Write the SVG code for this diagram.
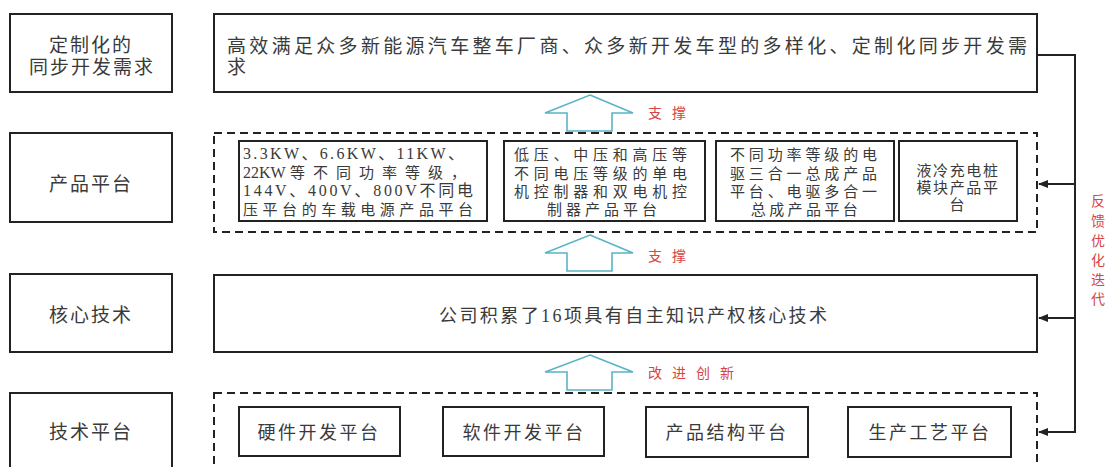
<svg xmlns="http://www.w3.org/2000/svg" width="1110" height="467" viewBox="0 0 1110 467">
<defs>
<style>
.box{fill:#fff;stroke:#222;stroke-width:2}
.dash{fill:none;stroke:#222;stroke-width:2;stroke-dasharray:8 5}
.t{font-family:"Liberation Serif","Noto Sans CJK SC",serif;fill:#3a3a3a}
.c{text-anchor:middle}
.red{font-family:"Liberation Serif","Noto Sans CJK SC",serif;fill:#d64545;font-size:14px}
.up{fill:#fff;stroke:#5ab4c6;stroke-width:1.6;stroke-linejoin:miter}
.fb{fill:none;stroke:#222;stroke-width:2}
</style>
<marker id="ah" markerWidth="10" markerHeight="8" refX="9" refY="4" orient="auto" markerUnits="userSpaceOnUse">
<path d="M0,0 L10,4 L0,8 z" fill="#222"/>
</marker>
</defs>
<rect width="1110" height="467" fill="#fff"/>

<g id="row1-label">
<rect class="box" x="10" y="14" width="162" height="78"/>
<text class="t c" x="91" y="52" font-size="19" letter-spacing="2">定制化的</text>
<text class="t c" x="92" y="74" font-size="19" letter-spacing="2">同步开发需求</text>
</g>
<g id="row1-main">
<rect class="box" x="214" y="14" width="823" height="78"/>
<text class="t" x="227" y="53" font-size="19" textLength="800" lengthAdjust="spacing">高效满足众多新能源汽车整车厂商、众多新开发车型的多样化、定制化同步开发需</text>
<text class="t" x="227" y="74" font-size="19">求</text>
</g>

<g id="row2-label">
<rect class="box" x="10" y="133" width="162" height="89"/>
<text class="t c" x="91" y="191" font-size="19" letter-spacing="2">产品平台</text>
</g>
<g id="row2-main">
<rect class="dash" x="214" y="133" width="823" height="99"/>
<g id="prod-a">
<rect class="box" x="239" y="141" width="248" height="80"/>
<text class="t" x="243" y="159" font-size="16" textLength="221" lengthAdjust="spacing">3.3KW、6.6KW、11KW、</text>
<text class="t" x="243" y="177.5" font-size="16">22KW</text>
<text class="t" x="290" y="177.5" font-size="15" textLength="176" lengthAdjust="spacing">等不同功率等级，</text>
<text class="t" x="243" y="196" font-size="16" textLength="230" lengthAdjust="spacing">144V、400V、800V不同电</text>
<text class="t" x="243" y="214.5" font-size="15" textLength="230" lengthAdjust="spacing">压平台的车载电源产品平台</text>
</g>
<g id="prod-b">
<rect class="box" x="504" y="141" width="201" height="80"/>
<text class="t" x="514" y="160" font-size="15" textLength="173" lengthAdjust="spacing">低压、中压和高压等</text>
<text class="t" x="514" y="178.5" font-size="15" textLength="173" lengthAdjust="spacing">不同电压等级的单电</text>
<text class="t" x="514" y="197" font-size="15" textLength="173" lengthAdjust="spacing">机控制器和双电机控</text>
<text class="t c" x="604" y="215" font-size="15" letter-spacing="4">制器产品平台</text>
</g>
<g id="prod-c">
<rect class="box" x="716" y="141" width="178" height="80"/>
<text class="t" x="730" y="160" font-size="15" textLength="147" lengthAdjust="spacing">不同功率等级的电</text>
<text class="t" x="730" y="178.5" font-size="15" textLength="147" lengthAdjust="spacing">驱三合一总成产品</text>
<text class="t" x="730" y="197" font-size="15" textLength="147" lengthAdjust="spacing">平台、电驱多合一</text>
<text class="t c" x="806" y="215" font-size="15" letter-spacing="3.4">总成产品平台</text>
</g>
<g id="prod-d">
<rect class="box" x="899" y="141" width="118" height="80"/>
<text class="t c" x="958" y="176" font-size="15" letter-spacing="1.6">液冷充电桩</text>
<text class="t c" x="958" y="193" font-size="15" letter-spacing="1.6">模块产品平</text>
<text class="t c" x="957" y="210" font-size="15">台</text>
</g>
</g>

<g id="row3-label">
<rect class="box" x="10" y="274" width="162" height="78"/>
<text class="t c" x="91" y="322" font-size="19" letter-spacing="2">核心技术</text>
</g>
<g id="row3-main">
<rect class="box" x="214" y="275" width="823" height="77"/>
<text class="t" x="439" y="322" font-size="18" textLength="388" lengthAdjust="spacing">公司积累了16项具有自主知识产权核心技术</text>
</g>

<g id="row4-label">
<rect class="box" x="10" y="393" width="162" height="90"/>
<text class="t c" x="91" y="439" font-size="19" letter-spacing="2">技术平台</text>
</g>
<g id="row4-main">
<rect class="dash" x="214" y="393" width="823" height="90"/>
<g id="tech-hw">
<rect class="box" x="239" y="407" width="161" height="49"/>
<text class="t c" x="319" y="439" font-size="18" letter-spacing="2.5">硬件开发平台</text>
</g>
<g id="tech-sw">
<rect class="box" x="443" y="407" width="161" height="49"/>
<text class="t c" x="524" y="439" font-size="18" letter-spacing="2.5">软件开发平台</text>
</g>
<g id="tech-st">
<rect class="box" x="646" y="407" width="162" height="50"/>
<text class="t c" x="727" y="439" font-size="18" letter-spacing="2.5">产品结构平台</text>
</g>
<g id="tech-pr">
<rect class="box" x="848" y="407" width="163" height="50"/>
<text class="t c" x="930" y="439" font-size="18" letter-spacing="2.5">生产工艺平台</text>
</g>
</g>

<g id="connectors">
<polygon class="up" points="590,95 633,113 612,113 612,131 567,131 567,113 545,113"/>
<polygon class="up" points="590,235 633,253 612,253 612,271 567,271 567,253 545,253"/>
<polygon class="up" points="590,355 633,372 612,372 612,390 567,390 567,372 545,372"/>
<text class="red" x="648" y="118" textLength="38" lengthAdjust="spacing">支撑</text>
<text class="red" x="648" y="261" textLength="38" lengthAdjust="spacing">支撑</text>
<text class="red" x="648" y="378" textLength="86" lengthAdjust="spacing">改进创新</text>
<polyline class="fb" points="1037,55 1075,55 1075,432 1039,432" marker-end="url(#ah)"/>
<line class="fb" x1="1075" y1="184" x2="1039" y2="184" marker-end="url(#ah)"/>
<line class="fb" x1="1075" y1="318" x2="1039" y2="318" marker-end="url(#ah)"/>
<g class="red" font-size="15" text-anchor="middle">
<text x="1098" y="206">反</text>
<text x="1098" y="226">馈</text>
<text x="1098" y="246">优</text>
<text x="1098" y="265">化</text>
<text x="1098" y="285">迭</text>
<text x="1098" y="304">代</text>
</g>
</g>
</svg>
